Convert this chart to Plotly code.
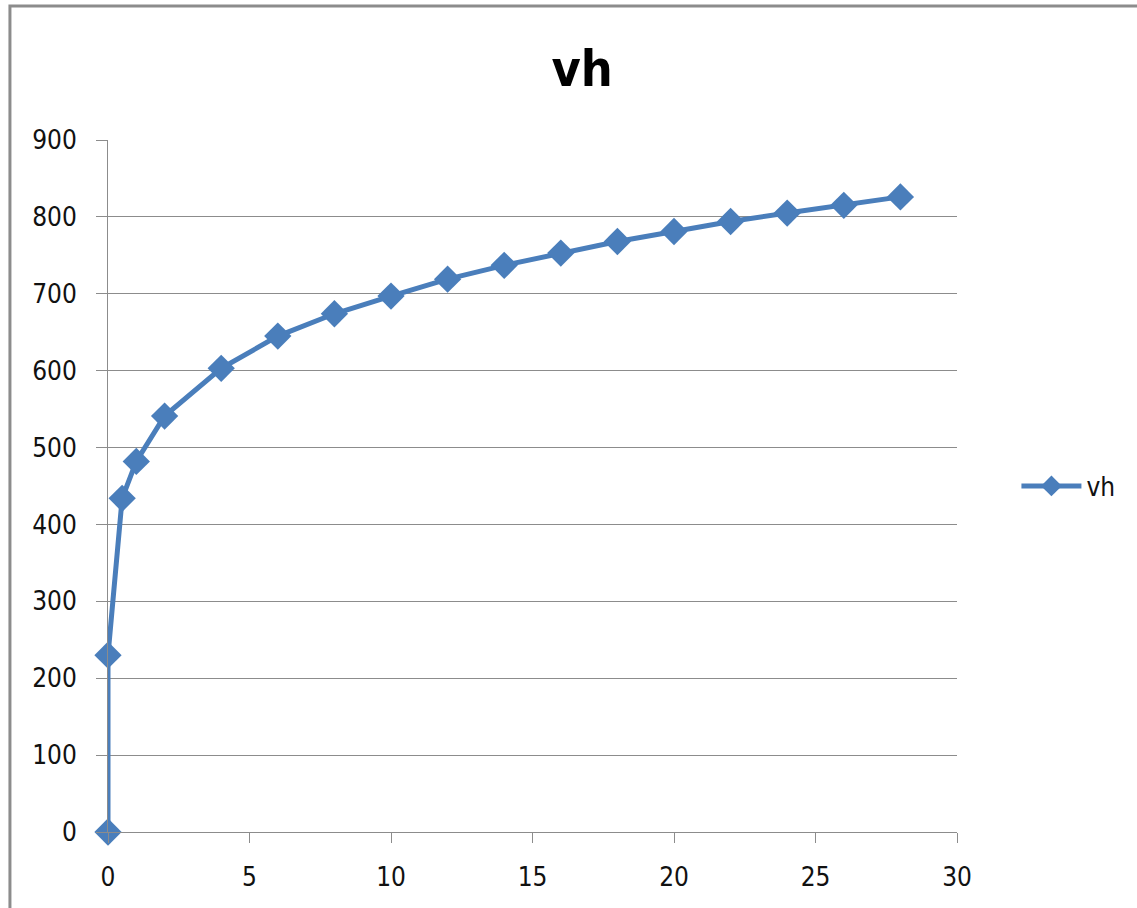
import plotly.graph_objects as go

x_vals = [0, 0, 0.5, 1, 2, 4, 6, 8, 10, 12, 14, 16, 18, 20, 22, 24, 26, 28]
vh_vals = [0, 230, 434, 482, 541, 603, 645, 674, 697, 719, 737, 753, 768, 781, 794, 805, 815, 826]
x_ticks = [0, 5, 10, 15, 20, 25, 30]
y_ticks = [0, 100, 200, 300, 400, 500, 600, 700, 800, 900]

color = "#4A7EBB"
font_fam = "DejaVu Sans Condensed, Liberation Sans Narrow, Liberation Sans, Arial"

fig = go.Figure()
fig.add_trace(go.Scatter(
    x=x_vals, y=vh_vals, mode="lines+markers", name="vh",
    line=dict(color=color, width=5),
    marker=dict(symbol="diamond", size=21, color=color),
))

fig.update_layout(
    width=1137, height=908,
    margin=dict(l=108, r=180, t=140, b=76),
    paper_bgcolor="white", plot_bgcolor="white",
    title=dict(text="<b>vh</b>", x=0.512, xanchor="center", y=0.925, yanchor="middle",
               font=dict(family=font_fam, size=50, color="black")),
    font=dict(family=font_fam, size=26, color="#111"),
    legend=dict(x=1.07, y=0.5, xanchor="left", yanchor="middle",
                font=dict(size=26, color="#111"), itemwidth=60),
    showlegend=True,
    xaxis=dict(range=[0, 30], tickvals=x_ticks, showgrid=False, showline=True,
               linecolor="#8c8c8c", linewidth=1, ticks="outside", ticklen=10,
               tickcolor="#8c8c8c", zeroline=False, ticklabelstandoff=12),
    yaxis=dict(range=[0, 900], tickvals=y_ticks, showgrid=True, gridcolor="#8c8c8c",
               gridwidth=1, showline=True, linecolor="#8c8c8c", linewidth=1,
               ticks="outside", ticklen=11, tickcolor="#8c8c8c", zeroline=False,
               ticklabelstandoff=14),
)
fig.update_traces(cliponaxis=False)

fig.add_shape(type="rect", xref="paper", yref="paper", x0=-0.1155, x1=1.22, y0=-0.12, y1=1.1936,
              line=dict(color="#8c8c8c", width=3), layer="below")

fig.write_html("out.html")
